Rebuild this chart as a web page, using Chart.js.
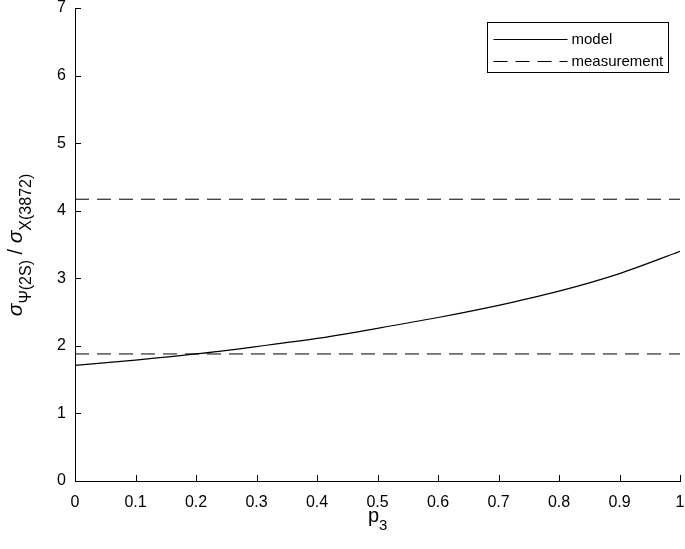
<!DOCTYPE html>
<html>
<head>
<meta charset="utf-8">
<script src="https://cdn.jsdelivr.net/npm/chart.js@4"></script>
<style>
  html, body { margin: 0; padding: 0; background: #fff; }
  #wrap { width: 685px; height: 549px; }
</style>
</head>
<body>
<div id="wrap"><canvas id="ratioChart" width="685" height="549"></canvas></div>
<script>
const p3Values = [0, 0.1, 0.2, 0.3, 0.4, 0.5, 0.6, 0.7, 0.8, 0.9, 1.0];
const modelRatio = [1.71, 1.79, 1.88, 1.99, 2.11, 2.26, 2.42, 2.60, 2.81, 3.07, 3.40];
const measurementUpper = 4.17;
const measurementLower = 1.88;
const xTicks = [0, 0.1, 0.2, 0.3, 0.4, 0.5, 0.6, 0.7, 0.8, 0.9, 1];
const yTicks = [0, 1, 2, 3, 4, 5, 6, 7];

const FONT = 'Liberation Sans, Arial, sans-serif';

const modelPoints = p3Values.map((x, i) => ({ x: x, y: modelRatio[i] }));
const upperLine = [{ x: 0, y: measurementUpper }, { x: 1, y: measurementUpper }];
const lowerLine = [{ x: 0, y: measurementLower }, { x: 1, y: measurementLower }];

// axis ticks drawn inward, axis titles with subscripts, boxed legend
const decorations = {
  id: 'decorations',
  afterDraw(chart) {
    const c = chart.ctx;
    const xs = chart.scales.x, ys = chart.scales.y;
    const a = chart.chartArea;
    c.save();
    c.strokeStyle = '#000';
    c.lineWidth = 1;
    c.beginPath();
    xTicks.forEach(v => {
      const px = Math.round(xs.getPixelForValue(v)) + 0.5;
      c.moveTo(px, a.bottom);
      c.lineTo(px, a.bottom - 6);
    });
    yTicks.forEach(v => {
      const py = Math.round(ys.getPixelForValue(v)) + 0.5;
      c.moveTo(a.left, py);
      c.lineTo(a.left + 6, py);
    });
    c.stroke();

    // x title p_3
    c.fillStyle = '#000';
    c.textBaseline = 'alphabetic';
    c.textAlign = 'left';
    const cx = (a.left + a.right) / 2;
    c.font = '20px ' + FONT;
    const pw = c.measureText('p').width;
    c.fillText('p', cx - pw / 2 - 4, 522);
    c.font = '15px ' + FONT;
    c.fillText('3', cx - pw / 2 - 4 + pw, 530);

    // y title sigma ratio
    c.translate(18, 245);
    c.rotate(-Math.PI / 2);
    const parts = [
      { t: 'σ', f: 'italic 21px ' + FONT, dy: 0 },
      { t: 'Ψ(2S)', f: '16px ' + FONT, dy: 9 },
      { t: ' / ', f: '20px ' + FONT, dy: 0 },
      { t: 'σ', f: 'italic 21px ' + FONT, dy: 0 },
      { t: 'X(3872)', f: '16px ' + FONT, dy: 9 }
    ];
    let total = 0;
    parts.forEach(p => { c.font = p.f; total += c.measureText(p.t).width; });
    let x0 = -total / 2;
    parts.forEach(p => {
      c.font = p.f;
      c.fillText(p.t, x0, 4 + p.dy);
      x0 += c.measureText(p.t).width;
    });
    c.restore();

    // legend box
    c.save();
    const lx = 487.5, ly = 22.5, lw = 181, lh = 50;
    c.fillStyle = '#fff';
    c.fillRect(lx, ly, lw, lh);
    c.strokeStyle = '#000';
    c.lineWidth = 1;
    c.strokeRect(lx, ly, lw, lh);
    c.beginPath();
    c.moveTo(lx + 6, 39.5);
    c.lineTo(lx + 80, 39.5);
    c.stroke();
    c.setLineDash([14, 8]);
    c.beginPath();
    c.moveTo(lx + 6, 61.5);
    c.lineTo(lx + 80, 61.5);
    c.stroke();
    c.setLineDash([]);
    c.fillStyle = '#000';
    c.font = '15px ' + FONT;
    c.textBaseline = 'middle';
    c.fillText('model', lx + 84, 40);
    c.fillText('measurement', lx + 84, 62);
    c.restore();
  }
};

new Chart(document.getElementById('ratioChart').getContext('2d'), {
  type: 'scatter',
  data: {
    datasets: [{
      label: 'model',
      data: modelPoints,
      showLine: true,
      borderColor: '#000',
      borderWidth: 1.2,
      pointRadius: 0,
      cubicInterpolationMode: 'monotone',
      fill: false
    }, {
      label: 'measurement',
      data: upperLine,
      showLine: true,
      borderColor: '#000',
      borderWidth: 1,
      borderDash: [14, 8],
      pointRadius: 0
    }, {
      label: 'measurement',
      data: lowerLine,
      showLine: true,
      borderColor: '#000',
      borderWidth: 1,
      borderDash: [14, 8],
      pointRadius: 0
    }]
  },
  options: {
    responsive: false,
    animation: false,
    layout: { padding: { top: 8, right: 5, left: 0, bottom: 0 } },
    plugins: {
      legend: { display: false },
      tooltip: { enabled: false }
    },
    scales: {
      x: {
        type: 'linear',
        min: 0,
        max: 1,
        afterBuildTicks: s => { s.ticks = xTicks.map(v => ({ value: v })); },
        afterFit: s => { s.height = 68; s.paddingLeft = 0; s.paddingRight = 0; },
        grid: { display: false, drawTicks: false },
        border: { display: true, color: '#000', width: 1 },
        ticks: {
          color: '#000',
          font: { family: FONT, size: 16 },
          padding: 12,
          maxRotation: 0,
          callback: v => String(v)
        }
      },
      y: {
        type: 'linear',
        min: 0,
        max: 7,
        afterBuildTicks: s => { s.ticks = yTicks.map(v => ({ value: v })); },
        afterFit: s => { s.width = 75; s.paddingTop = 0; s.paddingBottom = 0; },
        grid: { display: false, drawTicks: false },
        border: { display: true, color: '#000', width: 1 },
        ticks: {
          color: '#000',
          font: { family: FONT, size: 16 },
          padding: 9
        }
      }
    }
  },
  plugins: [decorations]
});
</script>
</body>
</html>
